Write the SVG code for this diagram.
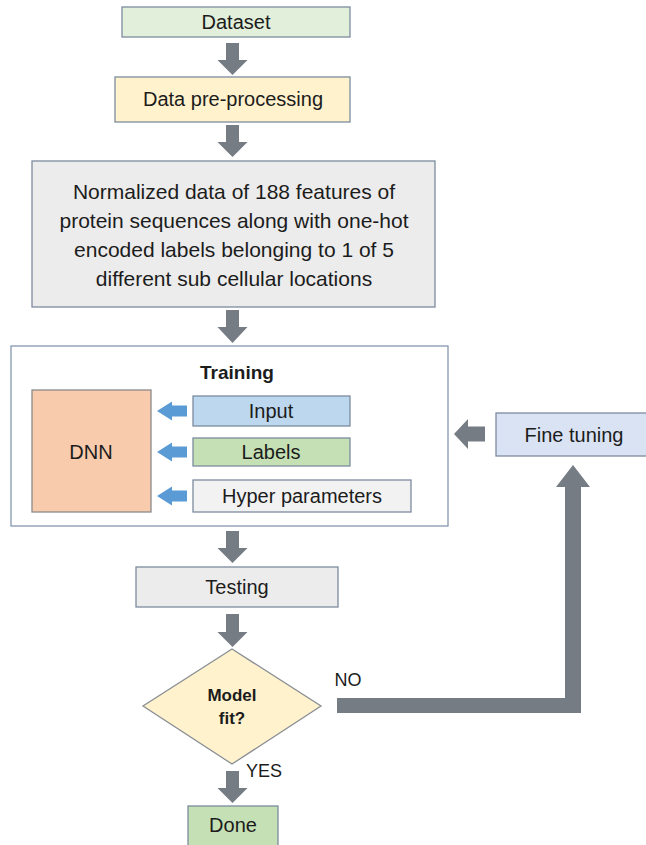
<svg xmlns="http://www.w3.org/2000/svg" width="646" height="845" viewBox="0 0 646 845">
<style>
text{font-family:"Liberation Sans",Arial,sans-serif;fill:#1c1c1c;text-anchor:middle}
.t{font-size:20px}
.b{stroke:#7b8c9e;stroke-width:1.3}
.ga{fill:#767c84}
.ba{fill:#5b9bd5}
</style>
<rect width="646" height="845" fill="#ffffff"/>
<g id="dataset"><rect class="b" x="122" y="7" width="228" height="30" fill="#e2efda"/><text class="t" x="236" y="29">Dataset</text></g>
<g id="preprocessing"><rect class="b" x="115" y="77" width="235" height="45" fill="#fff2cc"/><text class="t" x="233" y="106">Data pre-processing</text></g>
<g id="normalized"><rect class="b" x="32" y="161" width="403" height="146" fill="#ececec"/>
<text style="font-size:21px" x="234" y="199">Normalized data of 188 features of</text>
<text style="font-size:21px" x="234" y="228">protein sequences along with one-hot</text>
<text style="font-size:21px" x="234" y="257">encoded labels belonging to 1 of 5</text>
<text style="font-size:21px" x="234" y="286">different sub cellular locations</text></g>
<g id="training"><rect x="11" y="346" width="437" height="180" fill="#ffffff" stroke="#8497b0" stroke-width="1.3"/><text x="237" y="379" style="font-size:19px;font-weight:bold">Training</text></g>
<g id="dnn"><rect x="32" y="390" width="119" height="122" fill="#f8cbad" stroke="#8a8a8a" stroke-width="1.3"/><text class="t" x="91" y="459">DNN</text></g>
<g id="input"><rect class="b" x="193" y="396" width="157" height="30" fill="#bdd7ee"/><text class="t" x="271" y="418">Input</text></g>
<g id="labels"><rect class="b" x="193" y="438" width="157" height="28" fill="#c5e0b4"/><text class="t" x="271" y="459">Labels</text></g>
<g id="hyper"><rect class="b" x="193" y="480" width="218" height="32" fill="#f2f2f2"/><text class="t" x="302" y="503">Hyper parameters</text></g>
<g id="finetuning"><rect class="b" x="496" y="413" width="155" height="43" fill="#dae3f3"/><text class="t" x="574" y="442">Fine tuning</text></g>
<g id="testing"><rect class="b" x="136" y="567" width="202" height="40" fill="#ececec"/><text class="t" x="237" y="594">Testing</text></g>
<g id="modelfit"><polygon points="232,649 321,706 232,764 143,706" fill="#fff2cc" stroke="#8a8f96" stroke-width="1.3"/><text x="232" y="701" style="font-size:17px;font-weight:bold">Model</text><text x="232" y="724" style="font-size:17px;font-weight:bold">fit?</text></g>
<g id="done"><rect class="b" x="188" y="806" width="90" height="45" fill="#c5e0b4"/><text class="t" x="233" y="832">Done</text></g>
<g id="connectors">
<path class="ga" d="M226 43H239V60H247.5L232.5 75L217.5 60H226Z"/>
<path class="ga" d="M226 125H239V142H247.5L232.5 157L217.5 142H226Z"/>
<path class="ga" d="M226 310H239V327H247.5L232.5 343L217.5 327H226Z"/>
<path class="ga" d="M226 531H239V548H247.5L232.5 563L217.5 548H226Z"/>
<path class="ga" d="M226 614H239V632H247.5L232.5 647L217.5 632H226Z"/>
<path class="ga" d="M226 771H239V788H247.5L232.5 803L217.5 788H226Z"/>
<path class="ba" d="M157 411L172 401.5V405.5H187V416.5H172V420.5Z"/>
<path class="ba" d="M157 452L172 442.5V446.5H187V457.5H172V461.5Z"/>
<path class="ba" d="M157 496L172 486.5V490.5H187V501.5H172V505.5Z"/>
<path class="ga" d="M454 434L468 419V426.5H485V441.5H468V449Z"/>
<path class="ga" d="M337 698H565V487H556L573 465L590 487H581V713H337Z"/>
</g>
<text x="348" y="686" style="font-size:18px">NO</text>
<text x="264" y="777" style="font-size:18px">YES</text>
</svg>
